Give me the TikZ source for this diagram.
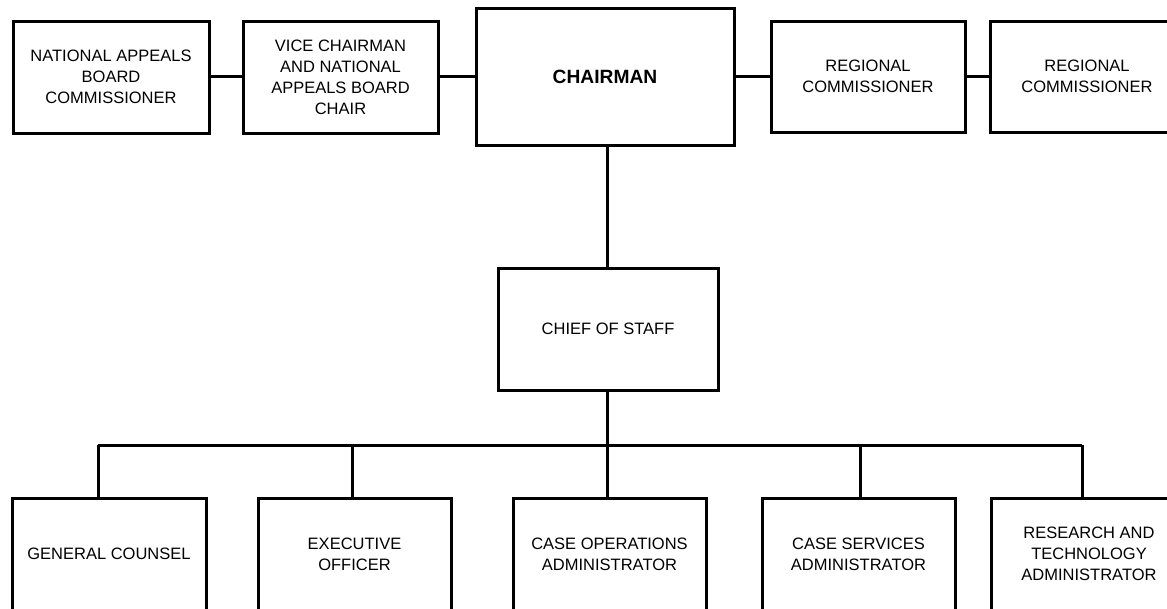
\documentclass[tikz,border=0pt]{standalone}
\usepackage{fontspec}
\setmainfont{Liberation Sans}
\begin{document}
\begin{tikzpicture}[x=1pt,y=-1pt,
  orgbox/.style={draw, line width=3pt, inner sep=0pt, align=center,
    font=\fontsize{16.5}{21}\selectfont},
  conn/.style={line width=3pt}]
\useasboundingbox (0,0) rectangle (1167,608);
\clip (0,0) rectangle (1167,608);
% top row
\node[orgbox, minimum width=196pt, minimum height=112pt] (nab) at (111,77)
  {NATIONAL APPEALS\\BOARD\\COMMISSIONER};
\node[orgbox, minimum width=195pt, minimum height=112pt] (vice) at (340.5,77)
  {VICE CHAIRMAN\\AND NATIONAL\\APPEALS BOARD\\CHAIR};
\node[orgbox, minimum width=258pt, minimum height=137pt,
  font=\bfseries\fontsize{19.2}{22}\selectfont] (chair) at (605,76.5) {CHAIRMAN};
\node[orgbox, minimum width=194pt, minimum height=111pt] (reg1) at (868,76.5)
  {REGIONAL\\COMMISSIONER};
\node[orgbox, minimum width=194pt, minimum height=111pt] (reg2) at (1087,76.5)
  {REGIONAL\\COMMISSIONER};
% chief of staff
\node[orgbox, minimum width=220pt, minimum height=122pt] (cos) at (608,329)
  {CHIEF OF STAFF};
% bottom row
\node[orgbox, minimum width=194pt, minimum height=112pt] (gc) at (109,554)
  {GENERAL COUNSEL};
\node[orgbox, minimum width=193pt, minimum height=112pt] (exec) at (354.5,554)
  {EXECUTIVE\\OFFICER};
\node[orgbox, minimum width=193pt, minimum height=112pt] (cops) at (609.5,554)
  {CASE OPERATIONS\\ADMINISTRATOR};
\node[orgbox, minimum width=193pt, minimum height=112pt] (csvc) at (858.5,554)
  {CASE SERVICES\\ADMINISTRATOR};
\node[orgbox, minimum width=196pt, minimum height=112pt] (rta) at (1089,554)
  {RESEARCH AND\\TECHNOLOGY\\ADMINISTRATOR};
% connectors top row
\draw[conn] (nab.east |- 0,76) -- (vice.west |- 0,76);
\draw[conn] (vice.east |- 0,76) -- (chair.west |- 0,76);
\draw[conn] (chair.east |- 0,76) -- (reg1.west |- 0,76);
\draw[conn] (reg1.east |- 0,76) -- (reg2.west |- 0,76);
% chairman to chief of staff
\coordinate (cv) at (607,0);
\draw[conn] (cv |- chair.south) -- (cv |- cos.north);
% bus
\coordinate (bus) at (607,445);
\coordinate (d1) at (98,445);
\coordinate (d2) at (352,445);
\coordinate (d3) at (607,445);
\coordinate (d4) at (860,445);
\coordinate (d5) at (1082,445);
\draw[conn] (cv |- cos.south) -- (bus);
\draw[conn] (d1) -- (d5);
\draw[conn] (d1) -- (d1 |- gc.north);
\draw[conn] (d2) -- (d2 |- exec.north);
\draw[conn] (d3) -- (d3 |- cops.north);
\draw[conn] (d4) -- (d4 |- csvc.north);
\draw[conn] (d5) -- (d5 |- rta.north);
\end{tikzpicture}
\end{document}
